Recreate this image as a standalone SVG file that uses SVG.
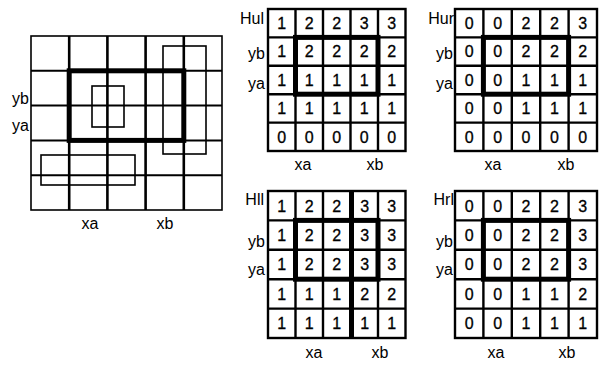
<svg xmlns="http://www.w3.org/2000/svg" width="608" height="365" viewBox="0 0 608 365">
<style>
.bg{fill:#fff}
.g{fill:none;stroke:#000;stroke-width:2.4}
.gv{fill:none;stroke:#000;stroke-width:2.6}
.gh{fill:none;stroke:#000;stroke-width:2}
.thick{fill:none;stroke:#000;stroke-width:5}
.thin{fill:none;stroke:#000;stroke-width:1.6}
.lbl{font-family:"Liberation Sans",Arial,sans-serif;font-size:16px;fill:#000}
.num{font-family:"Liberation Sans",Arial,sans-serif;font-size:16px;fill:#000;text-anchor:middle;stroke:#000;stroke-width:0.3}
</style>
<rect class="bg" x="0" y="0" width="608" height="365"/>

<g id="main-grid">
  <rect class="thin" x="31" y="36" width="191" height="174"/>
  <path class="gv" d="M69.2 36V210M107.4 36V210M145.6 36V210M183.8 36V210"/>
  <path class="gh" d="M31 70.8H222M31 105.6H222M31 140.4H222M31 175.2H222"/>
  <rect class="thick" x="69.2" y="70.8" width="114.6" height="69.6"/>
  <rect class="thin" x="92" y="86" width="32" height="41"/>
  <rect class="thin" x="163" y="46" width="43" height="108"/>
  <rect class="thin" x="41" y="155" width="94" height="30"/>
  <text class="lbl" x="29" y="104" text-anchor="end">yb</text>
  <text class="lbl" x="29" y="131" text-anchor="end">ya</text>
  <text class="lbl" x="90" y="229" text-anchor="middle">xa</text>
  <text class="lbl" x="165" y="229" text-anchor="middle">xb</text>
</g>

<g id="Hul">
  <rect class="g" x="268" y="9" width="137.5" height="142"/>
  <path class="g" d="M295.5 9V151M323 9V151M350.5 9V151M378 9V151M268 37.4H405.5M268 65.8H405.5M268 94.2H405.5M268 122.6H405.5"/>
  <rect class="thick" x="295.5" y="37.4" width="82.5" height="56.8"/>
  <text class="lbl" x="264" y="24" text-anchor="end">Hul</text>
  <text class="lbl" x="265" y="59" text-anchor="end">yb</text>
  <text class="lbl" x="265" y="89" text-anchor="end">ya</text>
  <text class="lbl" x="303" y="170" text-anchor="middle">xa</text>
  <text class="lbl" x="375" y="170" text-anchor="middle">xb</text>
  <g class="num">
    <text x="281.75" y="29">1</text><text x="309.25" y="29">2</text><text x="336.75" y="29">2</text><text x="364.25" y="29">3</text><text x="391.75" y="29">3</text>
    <text x="281.75" y="57.4">1</text><text x="309.25" y="57.4">2</text><text x="336.75" y="57.4">2</text><text x="364.25" y="57.4">2</text><text x="391.75" y="57.4">2</text>
    <text x="281.75" y="85.8">1</text><text x="309.25" y="85.8">1</text><text x="336.75" y="85.8">1</text><text x="364.25" y="85.8">1</text><text x="391.75" y="85.8">1</text>
    <text x="281.75" y="114.2">1</text><text x="309.25" y="114.2">1</text><text x="336.75" y="114.2">1</text><text x="364.25" y="114.2">1</text><text x="391.75" y="114.2">1</text>
    <text x="281.75" y="142.6">0</text><text x="309.25" y="142.6">0</text><text x="336.75" y="142.6">0</text><text x="364.25" y="142.6">0</text><text x="391.75" y="142.6">0</text>
  </g>
</g>

<g id="Hur">
  <rect class="g" x="455" y="9" width="142" height="142"/>
  <path class="g" d="M483.4 9V151M511.8 9V151M540.2 9V151M568.6 9V151M455 37.4H597M455 65.8H597M455 94.2H597M455 122.6H597"/>
  <rect class="thick" x="483.4" y="37.4" width="85.2" height="56.8"/>
  <text class="lbl" x="454" y="24" text-anchor="end">Hur</text>
  <text class="lbl" x="453" y="59" text-anchor="end">yb</text>
  <text class="lbl" x="453" y="89" text-anchor="end">ya</text>
  <text class="lbl" x="493" y="170" text-anchor="middle">xa</text>
  <text class="lbl" x="566" y="170" text-anchor="middle">xb</text>
  <g class="num">
    <text x="469.2" y="29">0</text><text x="497.6" y="29">0</text><text x="526" y="29">2</text><text x="554.4" y="29">2</text><text x="582.8" y="29">3</text>
    <text x="469.2" y="57.4">0</text><text x="497.6" y="57.4">0</text><text x="526" y="57.4">2</text><text x="554.4" y="57.4">2</text><text x="582.8" y="57.4">2</text>
    <text x="469.2" y="85.8">0</text><text x="497.6" y="85.8">0</text><text x="526" y="85.8">1</text><text x="554.4" y="85.8">1</text><text x="582.8" y="85.8">1</text>
    <text x="469.2" y="114.2">0</text><text x="497.6" y="114.2">0</text><text x="526" y="114.2">1</text><text x="554.4" y="114.2">1</text><text x="582.8" y="114.2">1</text>
    <text x="469.2" y="142.6">0</text><text x="497.6" y="142.6">0</text><text x="526" y="142.6">0</text><text x="554.4" y="142.6">0</text><text x="582.8" y="142.6">0</text>
  </g>
</g>

<g id="Hll">
  <rect class="g" x="268" y="191" width="137.5" height="147"/>
  <path class="g" d="M295.5 191V338M323 191V338M378 191V338M268 220.4H405.5M268 249.8H405.5M268 279.2H405.5M268 308.6H405.5"/>
  <path class="thick" d="M351.5 191V338"/>
  <rect class="thick" x="295.5" y="220.4" width="82.5" height="58.8"/>
  <text class="lbl" x="264" y="205" text-anchor="end">Hll</text>
  <text class="lbl" x="265" y="247" text-anchor="end">yb</text>
  <text class="lbl" x="265" y="275" text-anchor="end">ya</text>
  <text class="lbl" x="314" y="358" text-anchor="middle">xa</text>
  <text class="lbl" x="380" y="358" text-anchor="middle">xb</text>
  <g class="num">
    <text x="281.75" y="211.5">1</text><text x="309.25" y="211.5">2</text><text x="336.75" y="211.5">2</text><text x="364.75" y="211.5">3</text><text x="391.75" y="211.5">3</text>
    <text x="281.75" y="240.9">1</text><text x="309.25" y="240.9">2</text><text x="336.75" y="240.9">2</text><text x="364.75" y="240.9">3</text><text x="391.75" y="240.9">3</text>
    <text x="281.75" y="270.3">1</text><text x="309.25" y="270.3">2</text><text x="336.75" y="270.3">2</text><text x="364.75" y="270.3">3</text><text x="391.75" y="270.3">3</text>
    <text x="281.75" y="299.7">1</text><text x="309.25" y="299.7">1</text><text x="336.75" y="299.7">1</text><text x="364.75" y="299.7">2</text><text x="391.75" y="299.7">2</text>
    <text x="281.75" y="329.1">1</text><text x="309.25" y="329.1">1</text><text x="336.75" y="329.1">1</text><text x="364.75" y="329.1">1</text><text x="391.75" y="329.1">1</text>
  </g>
</g>

<g id="Hrl">
  <rect class="g" x="455" y="191" width="142" height="147"/>
  <path class="g" d="M483.4 191V338M511.8 191V338M540.2 191V338M568.6 191V338M455 220.4H597M455 249.8H597M455 279.2H597M455 308.6H597"/>
  <rect class="thick" x="483.4" y="220.4" width="85.2" height="58.8"/>
  <text class="lbl" x="454" y="205" text-anchor="end">Hrl</text>
  <text class="lbl" x="453" y="247" text-anchor="end">yb</text>
  <text class="lbl" x="453" y="275" text-anchor="end">ya</text>
  <text class="lbl" x="496" y="358" text-anchor="middle">xa</text>
  <text class="lbl" x="567" y="358" text-anchor="middle">xb</text>
  <g class="num">
    <text x="469.2" y="211.5">0</text><text x="497.6" y="211.5">0</text><text x="526" y="211.5">2</text><text x="554.4" y="211.5">2</text><text x="582.8" y="211.5">3</text>
    <text x="469.2" y="240.9">0</text><text x="497.6" y="240.9">0</text><text x="526" y="240.9">2</text><text x="554.4" y="240.9">2</text><text x="582.8" y="240.9">3</text>
    <text x="469.2" y="270.3">0</text><text x="497.6" y="270.3">0</text><text x="526" y="270.3">2</text><text x="554.4" y="270.3">2</text><text x="582.8" y="270.3">3</text>
    <text x="469.2" y="299.7">0</text><text x="497.6" y="299.7">0</text><text x="526" y="299.7">1</text><text x="554.4" y="299.7">1</text><text x="582.8" y="299.7">2</text>
    <text x="469.2" y="329.1">0</text><text x="497.6" y="329.1">0</text><text x="526" y="329.1">1</text><text x="554.4" y="329.1">1</text><text x="582.8" y="329.1">1</text>
  </g>
</g>

<g id="connectors"></g>
</svg>
